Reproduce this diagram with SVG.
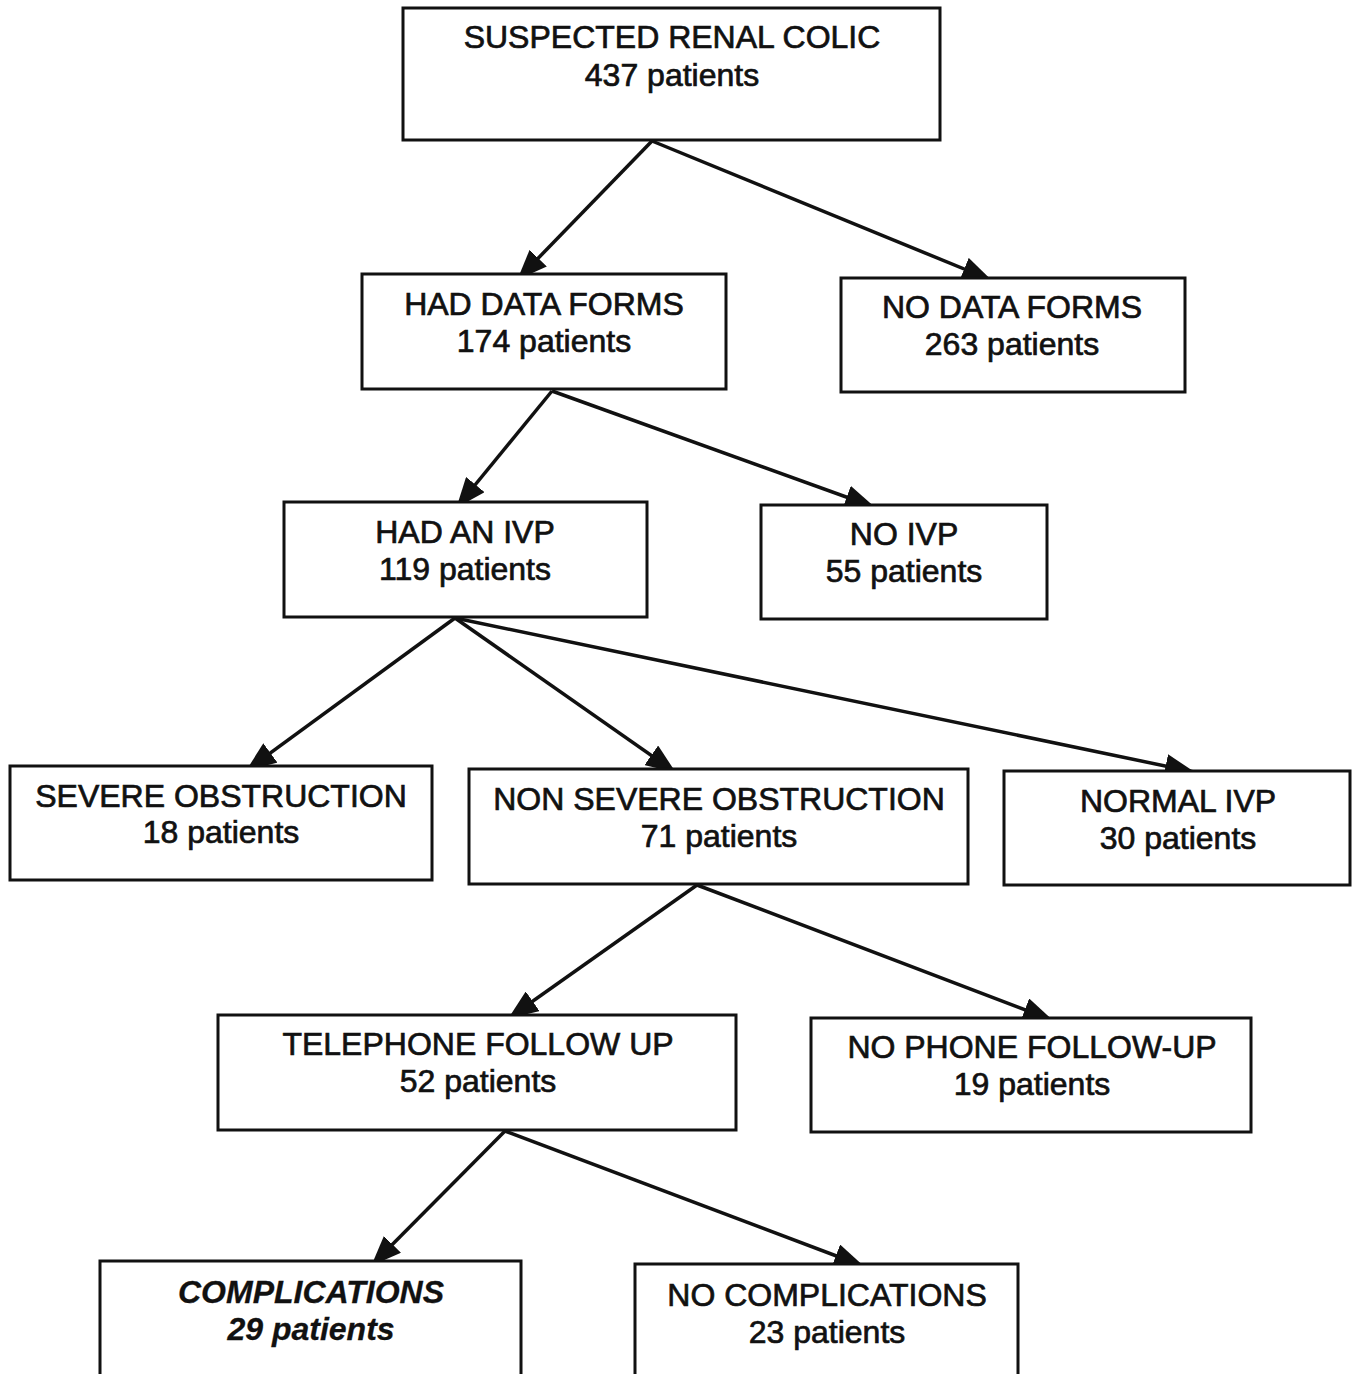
<svg xmlns="http://www.w3.org/2000/svg" width="1352" height="1374" viewBox="0 0 1352 1374">
  <style>
    .box { fill: #fff; stroke: #111; stroke-width: 3; }
    .lbl { font-family: "Liberation Sans", Arial, sans-serif; font-size: 32px; fill: #111; stroke: #111; stroke-width: 0.7px; text-anchor: middle; }
    .em { font-weight: bold; font-style: italic; stroke-width: 0.3px; }
    .link { stroke: #111; stroke-width: 3.5; fill: none; marker-end: url(#head); }
  </style>
  <defs>
    <marker id="head" markerUnits="userSpaceOnUse" markerWidth="30" markerHeight="24" viewBox="0 0 30 24" refX="29" refY="12" orient="auto">
      <path d="M0,0 L30,12 L0,24 z" fill="#111"/>
    </marker>
  </defs>
  <rect width="1352" height="1374" fill="#fff"/>

  <!-- connectors are drawn first; boxes sit on top so arrow tips tuck under the box edges -->
  <g id="connectors">
    <line class="link" x1="652" y1="141" x2="518" y2="279"/>
    <line class="link" x1="652" y1="141" x2="991" y2="280"/>
    <line class="link" x1="552" y1="391" x2="457" y2="507"/>
    <line class="link" x1="552" y1="391" x2="874" y2="507"/>
    <line class="link" x1="455" y1="618" x2="247" y2="770"/>
    <line class="link" x1="455" y1="618" x2="675" y2="772"/>
    <line class="link" x1="455" y1="618" x2="1194" y2="772"/>
    <line class="link" x1="697" y1="885" x2="509" y2="1018"/>
    <line class="link" x1="697" y1="885" x2="1052" y2="1020"/>
    <line class="link" x1="505" y1="1131" x2="372" y2="1265"/>
    <line class="link" x1="505" y1="1131" x2="863" y2="1266"/>
  </g>

  <g id="suspected">
    <rect class="box" x="403" y="8" width="537" height="132"/>
    <text class="lbl" x="672" y="48">SUSPECTED RENAL COLIC</text>
    <text class="lbl" x="672" y="86">437 patients</text>
  </g>
  <g id="had-data-forms">
    <rect class="box" x="362" y="274" width="364" height="115"/>
    <text class="lbl" x="544" y="315">HAD DATA FORMS</text>
    <text class="lbl" x="544" y="352">174 patients</text>
  </g>
  <g id="no-data-forms">
    <rect class="box" x="841" y="278" width="344" height="114"/>
    <text class="lbl" x="1012" y="318">NO DATA FORMS</text>
    <text class="lbl" x="1012" y="355">263 patients</text>
  </g>
  <g id="had-ivp">
    <rect class="box" x="284" y="502" width="363" height="115"/>
    <text class="lbl" x="465" y="543">HAD AN IVP</text>
    <text class="lbl" x="465" y="580">119 patients</text>
  </g>
  <g id="no-ivp">
    <rect class="box" x="761" y="505" width="286" height="114"/>
    <text class="lbl" x="904" y="545">NO IVP</text>
    <text class="lbl" x="904" y="582">55 patients</text>
  </g>
  <g id="severe">
    <rect class="box" x="10" y="766" width="422" height="114"/>
    <text class="lbl" x="221" y="807">SEVERE OBSTRUCTION</text>
    <text class="lbl" x="221" y="843">18 patients</text>
  </g>
  <g id="non-severe">
    <rect class="box" x="469" y="769" width="499" height="115"/>
    <text class="lbl" x="719" y="810">NON SEVERE OBSTRUCTION</text>
    <text class="lbl" x="719" y="847">71 patients</text>
  </g>
  <g id="normal-ivp">
    <rect class="box" x="1004" y="771" width="346" height="114"/>
    <text class="lbl" x="1178" y="812">NORMAL IVP</text>
    <text class="lbl" x="1178" y="849">30 patients</text>
  </g>
  <g id="telephone">
    <rect class="box" x="218" y="1015" width="518" height="115"/>
    <text class="lbl" x="478" y="1055">TELEPHONE FOLLOW UP</text>
    <text class="lbl" x="478" y="1092">52 patients</text>
  </g>
  <g id="no-phone">
    <rect class="box" x="811" y="1018" width="440" height="114"/>
    <text class="lbl" x="1032" y="1058">NO PHONE FOLLOW-UP</text>
    <text class="lbl" x="1032" y="1095">19 patients</text>
  </g>
  <g id="complications">
    <rect class="box" x="100" y="1261" width="421" height="130"/>
    <text class="lbl em" x="311" y="1303">COMPLICATIONS</text>
    <text class="lbl em" x="311" y="1340">29 patients</text>
  </g>
  <g id="no-complications">
    <rect class="box" x="635" y="1264" width="383" height="130"/>
    <text class="lbl" x="827" y="1306">NO COMPLICATIONS</text>
    <text class="lbl" x="827" y="1343">23 patients</text>
  </g>
</svg>
